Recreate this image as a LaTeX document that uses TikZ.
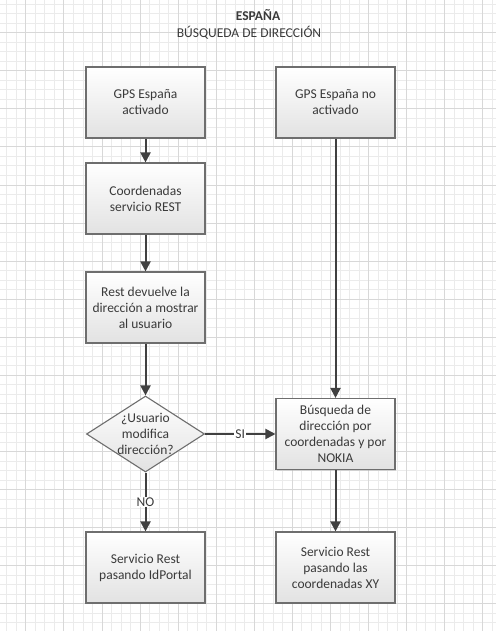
\documentclass[tikz,border=0pt]{standalone}
\usepackage{fontspec}
\setmainfont{Carlito}
\usetikzlibrary{shapes.geometric, arrows, arrows.meta, positioning, calc, shadows}
\definecolor{gridminor}{HTML}{EBEBEB}
\definecolor{gridmajor}{HTML}{D8D8D8}
\definecolor{boxline}{HTML}{6E6E6E}
\definecolor{boxfill}{HTML}{E2E2E2}
\definecolor{txt}{HTML}{3A3A3A}
\definecolor{arrowcol}{HTML}{404040}

\begin{document}
\begin{tikzpicture}[x=1pt, y=-1pt, font=\fontsize{13.5}{16}\selectfont, text=txt]
    \tikzstyle{box} = [rectangle, draw=boxline, line width=1.1pt, top color=white, bottom color=boxfill, minimum width=119pt, minimum height=71pt, align=center, drop shadow={shadow xshift=1pt, shadow yshift=-1pt, opacity=0.25}]
    \tikzstyle{decision} = [diamond, aspect=1.55, draw=boxline, line width=1.1pt, top color=white, bottom color=boxfill, minimum width=118pt, minimum height=76pt, align=center, inner sep=-2pt]
    \tikzstyle{arrow} = [line width=2pt, draw=arrowcol, ->, >={Triangle[length=10pt, width=10pt]}]
    \tikzstyle{tag} = [fill=white, inner sep=1pt]

    % background grid
    \useasboundingbox (0,0) rectangle (496,631);
    \fill[white] (0,0) rectangle (496,631);
    \foreach \i in {0,...,51} {
        \pgfmathsetmacro{\gx}{6.7+9.52*\i}
        \draw[gridminor, line width=0.7pt] (\gx,0) -- (\gx,631);
    }
    \foreach \j in {0,...,65} {
        \pgfmathsetmacro{\gy}{4+9.52*\j}
        \draw[gridminor, line width=0.7pt] (0,\gy) -- (496,\gy);
    }
    \foreach \i in {0,...,12} {
        \pgfmathsetmacro{\gx}{25.7+38.08*\i}
        \draw[gridmajor, line width=0.7pt] (\gx,0) -- (\gx,631);
    }
    \foreach \j in {0,...,16} {
        \pgfmathsetmacro{\gy}{32.6+38.08*\j}
        \draw[gridmajor, line width=0.7pt] (0,\gy) -- (496,\gy);
    }

    % title
    \node[font=\fontsize{13.5}{16}\selectfont\bfseries] (title) at (258,15) {ESPAÑA};
    \node (subtitle) at (249,33) {BÚSQUEDA DE DIRECCIÓN};

    % left column
    \node[box] (gpson) at (145.5,102.5) {GPS España\\activado};
    \node[box] (coords) at (145.5,198.5) {Coordenadas\\servicio REST};
    \node[box] (restdir) at (145.5,307.5) {Rest devuelve la\\dirección a mostrar\\al usuario};
    \node[decision] (modify) at (145.5,434) {¿Usuario\\modifica\\dirección?};
    \node[box] (idportal) at (145.5,567.5) {Servicio Rest\\pasando IdPortal};

    % right column
    \node[box] (gpsoff) at (335.5,102.5) {GPS España no\\activado};
    \node[box] (search) at (335.5,434) {Búsqueda de\\dirección por\\coordenadas y por\\NOKIA};
    \node[box] (coordxy) at (335.5,567.5) {Servicio Rest\\pasando las\\coordenadas XY};

    \draw[arrow] (gpson) -- (coords);
    \draw[arrow] (coords) -- (restdir);
    \draw[arrow] (restdir) -- (modify);
    \draw[arrow] (modify) -- node[tag] {SI} (search);
    \draw[arrow] (modify) -- node[tag] {NO} (idportal);
    \draw[arrow] (gpsoff) -- (search);
    \draw[arrow] (search) -- (coordxy);
\end{tikzpicture}
\end{document}
